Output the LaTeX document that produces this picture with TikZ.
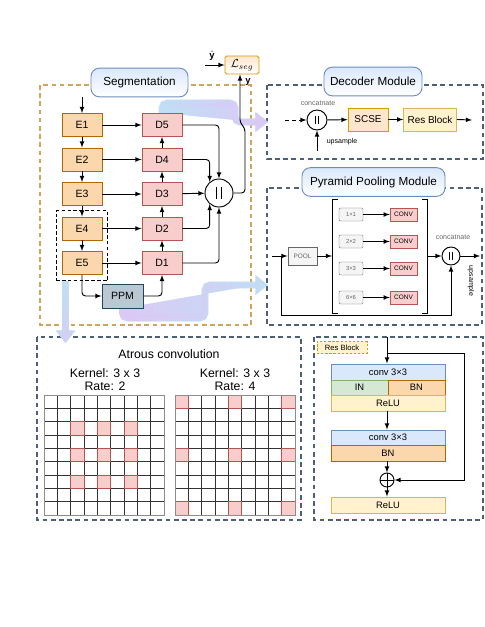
\documentclass[tikz,border=0pt]{standalone}
\usepackage{amsmath}
\usepackage{amssymb}
\usepackage{fontspec}
\setmainfont{Liberation Sans}
\usepackage{tikz}
\usetikzlibrary{arrows}
\usetikzlibrary{arrows.meta,fadings,fit,backgrounds}

\definecolor{encfill}{HTML}{FAD7AC}
\definecolor{encline}{HTML}{B46504}
\definecolor{decfill}{HTML}{F8CECC}
\definecolor{decline}{HTML}{B85450}
\definecolor{ppmfill}{HTML}{BAC8D3}
\definecolor{ppmline}{HTML}{23445D}
\definecolor{titlefill}{HTML}{DAE8FC}
\definecolor{titleline}{HTML}{6C8EBF}
\definecolor{segline}{HTML}{CFA45C}
\definecolor{panelline}{HTML}{4E5F78}
\definecolor{scsefill}{HTML}{FFE6CC}
\definecolor{scseline}{HTML}{D79B00}
\definecolor{resfill}{HTML}{FFF2CC}
\definecolor{resline}{HTML}{D6B656}
\definecolor{infill}{HTML}{D5E8D4}
\definecolor{inline}{HTML}{82B366}
\definecolor{greyfill}{HTML}{F5F5F5}
\definecolor{greyline}{HTML}{666666}
\definecolor{flowblue}{HTML}{BFE0F4}
\definecolor{flowpurple}{HTML}{DCC9F6}

\tikzfading[name=fade in right,left color=transparent!100,right color=transparent!0]
\tikzfading[name=fade in left,left color=transparent!0,right color=transparent!100]
\tikzfading[name=fade in down,top color=transparent!100,bottom color=transparent!0]

\begin{document}
\begin{tikzpicture}[x=0.03cm,y=-0.03cm,>=latex,auto,node distance=1.035cm,
		thick,
		enc node/.style={rectangle,fill=encfill,draw=encline,
			minimum width=1.2cm,minimum height=0.69cm,font=\fontsize{9}{10}\selectfont},
		dec node/.style={rectangle,fill=decfill,draw=decline,
			minimum width=1.2cm,minimum height=0.69cm,font=\fontsize{9}{10}\selectfont},
		title node/.style={rounded corners=2.5mm,draw=titleline,top color=titlefill,
			bottom color=white,minimum height=0.86cm,font=\fontsize{10}{12}\selectfont},
		panel/.style={draw=panelline,line width=1.1pt,dash pattern=on 4pt off 3pt},
		seg panel/.style={draw=segline,line width=1.1pt,dash pattern=on 4pt off 3pt},
		cat node/.style={circle,draw,fill=white,minimum size=#1,inner sep=0pt,
			path picture={
				\draw ([xshift=-0.08*#1,yshift=-0.21*#1]path picture bounding box.center)
					-- ([xshift=-0.08*#1,yshift=0.21*#1]path picture bounding box.center);
				\draw ([xshift=0.08*#1,yshift=-0.21*#1]path picture bounding box.center)
					-- ([xshift=0.08*#1,yshift=0.21*#1]path picture bounding box.center);}},
		plus node/.style={circle,draw,fill=white,minimum size=0.42cm,inner sep=0pt,
			path picture={
				\draw (path picture bounding box.north) -- (path picture bounding box.south)
					(path picture bounding box.west) -- (path picture bounding box.east);}},
		small label/.style={font=\fontsize{6}{7}\selectfont,text=greyline},
		mod node/.style={rectangle,draw,minimum height=0.69cm,font=\fontsize{8.5}{10}\selectfont},
		size node/.style={rectangle,rounded corners=1pt,fill=greyfill,draw=greyline,thin,
			minimum width=0.72cm,minimum height=0.39cm,inner sep=0pt,
			font=\fontsize{5}{6}\selectfont,text=greyline},
		conv node/.style={rectangle,fill=decfill,draw=decline,thin,
			minimum width=0.81cm,minimum height=0.39cm,inner sep=0pt,
			font=\fontsize{5.5}{6}\selectfont},
		res part/.style={rectangle,draw,inner sep=0pt,font=\fontsize{8}{9}\selectfont},
		grid line/.style={draw=black!80,line width=0.5pt},
		hot cell/.style={fill=decfill,draw=decline,line width=0.5pt},
		flow/.style={line width=0.2cm,rounded corners=1.5mm,
			-{Triangle[length=0.38cm,width=0.58cm]}}]
	\useasboundingbox (0,0) rectangle (485,627);
	
	% segmentation network
	\node[enc node] (E1) at (82,125) {E1};
	\node[enc node] (E2) [below of=E1] {E2};
	\node[enc node] (E3) [below of=E2] {E3};
	\node[enc node] (E4) [below of=E3] {E4};
	\node[enc node] (E5) [below of=E4] {E5};
	\node[dec node] (D5) [right of=E1,node distance=2.4cm] {D5};
	\node[dec node] (D4) [right of=E2,node distance=2.4cm] {D4};
	\node[dec node] (D3) [right of=E3,node distance=2.4cm] {D3};
	\node[dec node] (D2) [right of=E4,node distance=2.4cm] {D2};
	\node[dec node] (D1) [right of=E5,node distance=2.4cm] {D1};
	\node[rectangle,fill=ppmfill,draw=ppmline,minimum width=1.23cm,minimum height=0.72cm,
		font=\fontsize{9}{10}\selectfont] (PPM) at (122.5,296) {PPM};
	\node[cat node=0.84cm] (cat) at (219,193) {};
	\node[fit=(E4)(E5),draw,dash pattern=on 3pt off 2pt,inner xsep=0.16cm,
		inner ysep=0.17cm] (deep) {};
	\node[rectangle,rounded corners=1.5pt,draw=scseline,top color=scsefill,bottom color=white,
		minimum width=1.02cm,minimum height=0.54cm,inner sep=0pt] (Lseg) at (242,65)
		{$\mathcal{L}_{seg}$};
	\coordinate (segin) at (82,97);
	\coordinate (yhat) at (205,65);
	\node[font=\fontsize{8}{9}\selectfont] at (212,56) {$\hat{\mathbf{y}}$};
	\node[font=\fontsize{8}{9}\selectfont] at (248,82) {$\mathbf{y}$};
	
	\path[->]
	(segin) edge (E1)
	(E1) edge (E2)
	(E2) edge (E3)
	(E3) edge (E4)
	(E4) edge (E5)
	(E1) edge (D5)
	(E2) edge (D4)
	(E3) edge (D3)
	(E4) edge (D2)
	(E5) edge (D1)
	(D1) edge (D2)
	(D2) edge (D3)
	(D3) edge (D4)
	(D4) edge (D5)
	(D3) edge (cat)
	(yhat) edge (Lseg.west);
	\draw[->,rounded corners=3pt] (D5.east) -| (cat.north);
	\draw[->,rounded corners=3pt] (D4.east) -| (cat.130);
	\draw[->,rounded corners=3pt] (D2.east) -| (cat.230);
	\draw[->,rounded corners=3pt] (D1.east) -| (cat.south);
	\draw[->,rounded corners=3pt] (cat.east) -- (245,193) -- (245,128) -- (240,123) -- (Lseg.south -| 240,0);
	\draw[->,rounded corners=3pt] (E5.south) |- (PPM.west);
	\draw[->,rounded corners=3pt] (PPM.east) -| (D1.south);
	
	% decoder module
	\node[cat node=0.6cm] (cat2) at (317,120) {};
	\node[mod node,fill=scsefill,draw=scseline,minimum width=1.2cm] (SCSE) at (368,119.5) {SCSE};
	\node[mod node,fill=resfill,draw=resline,minimum width=1.56cm] (Res) at (430,119.5) {Res Block};
	\node[small label] at (318,103) {concatnate};
	\node[small label,text=black] at (342,142) {upsample};
	\coordinate (decin) at (285,120);
	\coordinate (decup) at (317,151);
	\coordinate (decout) at (472,120);
	\draw[->,dashed] (decin) -- (cat2.west);
	\path[->]
	(decup) edge (cat2.south)
	(cat2) edge (SCSE)
	(SCSE) edge (Res)
	(Res.east) edge (decout);
	
	% pyramid pooling module
	\node[rectangle,fill=greyfill,draw=greyline,minimum width=0.87cm,minimum height=0.54cm,
		inner sep=0pt,font=\fontsize{5.5}{6}\selectfont,text=greyline] (POOL) at (302.5,256) {POOL};
	\node[size node] (S1) at (351,214.5) {1×1};
	\node[size node] (S2) at (351,241.5) {2×2};
	\node[size node] (S3) at (351,268.5) {3×3};
	\node[size node] (S6) at (351,297.5) {6×6};
	\node[conv node] (C1) at (403.5,214.5) {CONV};
	\node[conv node] (C2) at (403.5,241.5) {CONV};
	\node[conv node] (C3) at (403.5,268.5) {CONV};
	\node[conv node] (C6) at (403.5,297.5) {CONV};
	\node[cat node=0.54cm] (cat3) at (451,256) {};
	\node[small label] at (453,237) {concatnate};
	\node[small label,text=black,rotate=-90] at (471,281) {upsample};
	\coordinate (ppmin) at (272,256);
	\coordinate (ppmsplit) at (281,256);
	\coordinate (lbr) at (332,256);
	\coordinate (rbr) at (427,256);
	\coordinate (ppmout) at (480,256);
	\draw (338,199) -- (332,199) -- (332,313) -- (338,313);
	\draw (422,199) -- (427,199) -- (427,313) -- (422,313);
	\path[->]
	(ppmin) edge (POOL)
	(POOL) edge (lbr)
	(S1) edge (C1)
	(S2) edge (C2)
	(S3) edge (C3)
	(S6) edge (C6)
	(rbr) edge (cat3)
	(cat3) edge (ppmout);
	\draw[->] (ppmsplit) -- (281,315) -| (cat3.south);
	
	% atrous convolution
	\node[font=\fontsize{10.5}{12}\selectfont] at (169,354) {Atrous convolution};
	\node[font=\fontsize{10.5}{11}\selectfont,align=center] at (105,380) {Kernel: 3 x 3\\Rate: 2};
	\node[font=\fontsize{10.5}{11}\selectfont,align=center] at (235,380) {Kernel: 3 x 3\\Rate: 4};
	\begin{scope}[shift={(44,395)},x=0.4cm,y=-0.4cm]
		\foreach \i in {1,...,8} {
			\draw[grid line] (\i,0) -- (\i,9);
			\draw[grid line] (0,\i) -- (9,\i);
		}
		\foreach \c in {2,4,6} \foreach \r in {2,4,6}
			\draw[hot cell] (\c,\r) rectangle ++(1,1);
		\draw[draw=black!45,line width=0.6pt] (0,0) rectangle (9,9);
	\end{scope}
	\begin{scope}[shift={(175,395)},x=0.4cm,y=-0.4cm]
		\foreach \i in {1,...,8} {
			\draw[grid line] (\i,0) -- (\i,9);
			\draw[grid line] (0,\i) -- (9,\i);
		}
		\foreach \c in {0,4,8} \foreach \r in {0,4,8}
			\draw[hot cell] (\c,\r) rectangle ++(1,1);
		\draw[draw=black!45,line width=0.6pt] (0,0) rectangle (9,9);
	\end{scope}
	
	% res block
	\node[rectangle,fill=resfill,draw=scseline,dash pattern=on 2pt off 1.5pt,
		minimum width=1.5cm,minimum height=0.36cm,inner sep=0pt,
		font=\fontsize{6.5}{7}\selectfont] (tag) at (342,347.5) {Res Block};
	\node[res part,fill=titlefill,draw=titleline,minimum width=3.42cm,minimum height=0.48cm] (conv1) at (388,372) {conv 3×3};
	\node[res part,fill=infill,draw=inline,minimum width=1.71cm,minimum height=0.45cm] (IN) at (359.5,387.5) {IN};
	\node[res part,fill=encfill,draw=encline,minimum width=1.71cm,minimum height=0.45cm] (BN1) at (416.5,387.5) {BN};
	\node[res part,fill=resfill,draw=resline,minimum width=3.42cm,minimum height=0.48cm] (relu1) at (388,403) {ReLU};
	\node[res part,fill=titlefill,draw=titleline,minimum width=3.42cm,minimum height=0.45cm] (conv2) at (388,437.5) {conv 3×3};
	\node[res part,fill=encfill,draw=encline,minimum width=3.42cm,minimum height=0.48cm] (BN2) at (388,453) {BN};
	\node[plus node] (plus) at (387,480) {};
	\node[res part,fill=resfill,draw=resline,minimum width=3.42cm,minimum height=0.48cm] (relu2) at (388,505) {ReLU};
	\coordinate (resin) at (387,337);
	\coordinate (resbranch) at (387,353);
	\path[->]
	(resin) edge (conv1.north -| resin)
	(relu1.south -| resin) edge (conv2.north -| resin)
	(BN2.south -| resin) edge (plus)
	(plus) edge (relu2.north -| resin);
	\draw[->] (resbranch) -- (464,353) |- (plus.east);
	
	% panels and wide flows
	\begin{scope}[on background layer]
		\draw[seg panel] (40,85) rectangle (251,325);
		\draw[panel] (267,85) rectangle (483,159);
		\draw[panel] (267,188) rectangle (482,325);
		\draw[panel] (37,337) rectangle (301,520);
		\draw[panel] (314,337) rectangle (483,520);
		\draw[flow,draw=flowblue,fill=flowblue] (D5.north) |- (235,103) |- (268,122);
		\draw[flow,draw=flowpurple,fill=flowpurple,path fading=fade in right] (D5.north) |- (235,103) |- (268,122);
		\draw[flow,draw=flowblue,fill=flowblue] ([xshift=-0.495cm]deep.south) -- ++(0,62);
		\draw[flow,draw=flowpurple!70!flowblue,fill=flowpurple!70!flowblue,path fading=fade in down] ([xshift=-0.495cm]deep.south) -- ++(0,62);
		\draw[flow,draw=flowblue,fill=flowblue] (PPM.south) |- (205,318) |- (268,285);
		\draw[flow,draw=flowpurple,fill=flowpurple,path fading=fade in left] (PPM.south) |- (205,318) |- (268,285);
	\end{scope}
	
	% titles
	\node[title node,minimum width=2.91cm] (segtitle) at (139.5,82.5) {Segmentation};
	\node[title node,minimum width=2.94cm] (dectitle) at (373,81.5) {Decoder Module};
	\node[title node,minimum width=4.29cm] (ppmtitle) at (373.5,182) {Pyramid Pooling Module};
\end{tikzpicture}
\end{document}
